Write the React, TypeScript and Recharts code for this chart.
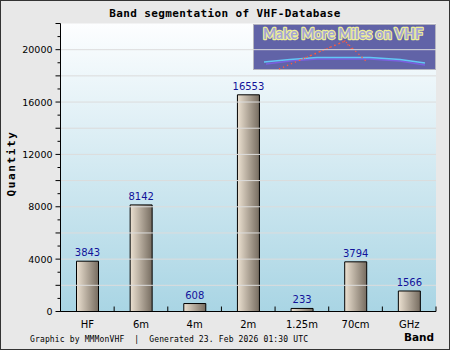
import React from 'react'
import { BarChart, Bar, XAxis, YAxis, CartesianGrid, ReferenceLine, LabelList, Customized } from 'recharts'

const BANDS = ['HF', '6m', '4m', '2m', '1.25m', '70cm', 'GHz']
const COUNTS = [3843, 8142, 608, 16553, 233, 3794, 1566]
const Y_TICKS = [0, 1000, 2000, 3000, 4000, 5000, 6000, 7000, 8000, 9000, 10000, 11000, 12000, 13000, 14000, 15000, 16000, 17000, 18000, 19000, 20000, 21000, 22000]
const GRID_VALUES = [2000, 4000, 6000, 8000, 10000, 12000, 14000, 16000, 18000, 20000]

const data = BANDS.map((band, i) => ({ band, count: COUNTS[i] }))

const W = 450
const H = 350
const LEFT = 60.5
const RIGHT = 14
const BAND_W = (W - LEFT - RIGHT) / BANDS.length

const MONO = '"DejaVu Sans Mono", monospace'
const SANS = '"DejaVu Sans", sans-serif'

const YTick = (props: any) => {
  const { x, y, payload } = props
  const v = payload.value
  const long = v % 2000 === 0
  return (
    <g>
      <line x1={x} x2={x - (long ? 5 : 3)} y1={y} y2={y} stroke="#000" />
      {v % 4000 === 0 && (
        <text x={x - 8} y={y} dy={3.5} textAnchor="end" fontSize={9.5} fontFamily={SANS} fill="#000">
          {v}
        </text>
      )}
    </g>
  )
}

const XTick = (props: any) => {
  const { x, y, payload, index } = props
  const left = x - BAND_W / 2
  return (
    <g>
      <line x1={left} x2={left} y1={y} y2={y - 5} stroke="#000" />
      {index === BANDS.length - 1 && <line x1={left + BAND_W} x2={left + BAND_W} y1={y} y2={y - 5} stroke="#000" />}
      <text x={x} y={y + 16} textAnchor="middle" fontSize={10} fontFamily={SANS} fill="#000">
        {payload.value}
      </text>
    </g>
  )
}

// "Make More Miles on VHF" banner in the upper right of the plot
const Logo = () => (
  <g>
    <rect x={253.5} y={24.5} width={182} height={45} fill="#6163a7" stroke="#b4b4c0" />
    <text
      x={343}
      y={38.5}
      textAnchor="middle"
      fontSize={14.5}
      fontWeight="bold"
      fontFamily='Lato, sans-serif'
      textLength={160}
      lengthAdjust="spacingAndGlyphs"
      fill="#a4a4d6"
      stroke="#efef9a"
      strokeWidth={2.4}
      strokeLinejoin="round"
      paintOrder="stroke"
    >
      Make More Miles on VHF
    </text>
    <polyline points="266,64 290,61 317,59 370,59 400,61 425,65" fill="none" stroke="#7b5fe0" strokeWidth={1.5} />
    <polyline points="264,62 290,59.5 317,57.5 370,57.5 400,59.5 425,63" fill="none" stroke="#62c6f6" strokeWidth={1.5} />
    <polyline points="279,69 345,41 367,62" fill="none" stroke="#ff5a3c" strokeWidth={1.3} strokeDasharray="1.3 3" />
    <polyline points="300,60 345,41 352,50" fill="none" stroke="#ff5a3c" strokeWidth={1.3} strokeDasharray="1.3 4" />
  </g>
)

export default function App() {
  return (
    <div
      style={{
        position: 'absolute',
        left: 0,
        top: 0,
        width: W,
        height: H,
        boxSizing: 'border-box',
        background: '#e8e8e8',
        border: '1.5px solid #333',
      }}
    >
      <div style={{ position: 'absolute', left: -1.5, top: -1.5 }}>
        <BarChart width={W} height={H} data={data} margin={{ top: 23.5, right: RIGHT, left: 0, bottom: 0 }} barSize={22}>
          <defs>
            <linearGradient id="plotBg" x1="0" y1="0" x2="0" y2="1">
              <stop offset="0%" stopColor="#fdfeff" />
              <stop offset="100%" stopColor="#a9d5e4" />
            </linearGradient>
            <linearGradient id="barFill" x1="0" y1="0" x2="1" y2="0">
              <stop offset="0%" stopColor="#ece1d1" />
              <stop offset="100%" stopColor="#766c60" />
            </linearGradient>
          </defs>
          <CartesianGrid horizontal={false} vertical={false} fill="url(#plotBg)" />
          <Customized component={Logo} />
          {GRID_VALUES.map((v) => (
            <ReferenceLine key={v} y={v} stroke="#dcdcdc" />
          ))}
          <XAxis
            dataKey="band"
            height={38.5}
            tickLine={false}
            tickSize={0}
            tickMargin={0}
            axisLine={{ stroke: '#000' }}
            tick={<XTick />}
            interval={0}
          />
          <YAxis
            width={LEFT}
            domain={[0, 22000]}
            ticks={Y_TICKS}
            interval={0}
            tickLine={false}
            tickSize={0}
            tickMargin={0}
            axisLine={{ stroke: '#000' }}
            tick={<YTick />}
            allowDataOverflow
          />
          <Bar dataKey="count" fill="url(#barFill)" stroke="#000" strokeWidth={1} isAnimationActive={false}>
            <LabelList dataKey="count" position="top" offset={5} fill="#12129a" fontSize={10} fontFamily={SANS} />
          </Bar>
        </BarChart>
      </div>
      <svg width={W} height={H} style={{ position: 'absolute', left: -1.5, top: -1.5, pointerEvents: 'none' }}>
        <text x={225} y={16.7} textAnchor="middle" fontSize={11} fontWeight="bold" fontFamily={MONO} letterSpacing={0.4}>
          Band segmentation of VHF-Database
        </text>
        <text
          x={15}
          y={163.5}
          transform="rotate(-90, 15, 163.5)"
          textAnchor="middle"
          fontSize={11}
          fontWeight="bold"
          fontFamily={MONO}
          letterSpacing={1.6}
        >
          Quantity
        </text>
        <text x={30} y={342} fontSize={8} fontFamily={MONO} letterSpacing={0.15} style={{ whiteSpace: 'pre' }}>
          {'Graphic by MMMonVHF  |  Generated 23. Feb 2026 01:30 UTC'}
        </text>
        <text x={434} y={341} textAnchor="end" fontSize={10.5} fontWeight="bold" fontFamily={SANS}>
          Band
        </text>
      </svg>
    </div>
  )
}
